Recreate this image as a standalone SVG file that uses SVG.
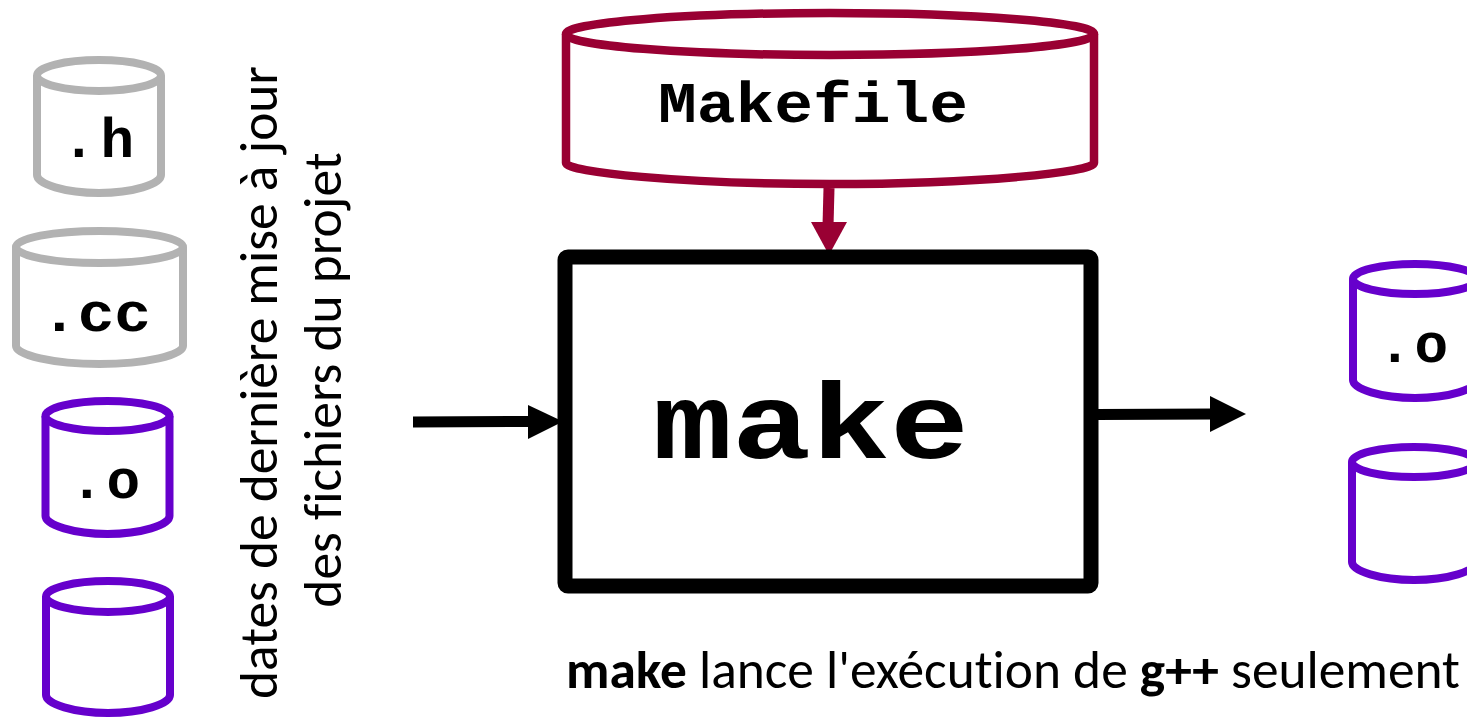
<svg xmlns="http://www.w3.org/2000/svg" width="1467" height="717" viewBox="0 0 1467 717">
<style>
.c{fill:#fff;stroke-width:8;stroke-linejoin:round}
.g{stroke:#b2b2b2}.p{stroke:#6600cc}.r{stroke:#990033;stroke-width:8.500}
.m{font-family:"Liberation Mono",monospace;font-weight:bold;fill:#000;text-anchor:middle}
.s{font-size:56px}
.t{font-family:Carlito,"Open Sans","Liberation Sans",sans-serif;fill:#000;font-variant-ligatures:none}
</style>
<rect width="1467" height="717" fill="#fff"/>
<g id="connectors">
<path d="M829 188L828 226" stroke="#990033" stroke-width="11" fill="none"/>
<path d="M811 222L847 222L829 255Z" fill="#990033"/>
<path d="M413 422L532 421.500" stroke="#000" stroke-width="11" fill="none"/>
<path d="M528 405L563 421.500L528 439Z" fill="#000"/>
<path d="M1097 414.500L1214 414" stroke="#000" stroke-width="11" fill="none"/>
<path d="M1210 396L1246 414L1210 432Z" fill="#000"/>
</g>
<g id="h"><path class="c g" d="M37 75.500V175C37 184 65 193 99 193S161 184 161 175V75.500"/><ellipse class="c g" cx="99" cy="75.500" rx="62" ry="15.500"/><text class="m s" x="98" y="157" textLength="72" lengthAdjust="spacing">.h</text></g>
<g id="cc"><path class="c g" d="M16 247V346C16 355 53 364 99.500 364S183 355 183 346V247"/><ellipse class="c g" cx="99.500" cy="247" rx="83.500" ry="16"/><text class="m s" x="96" y="331" textLength="110" lengthAdjust="spacingAndGlyphs">.cc</text></g>
<g id="o1"><path class="c p" d="M45.500 416V516C45.500 525 74 534 107.500 534S169.500 525 169.500 516V416"/><ellipse class="c p" cx="107.500" cy="416" rx="62" ry="15"/><text class="m s" x="105" y="498" textLength="70" lengthAdjust="spacing">.o</text></g>
<g id="exe1"><path class="c p" d="M46 596.500V695C46 704 74 713 108 713S170 704 170 695V596.500"/><ellipse class="c p" cx="108" cy="596.500" rx="62" ry="15.500"/></g>
<g id="dates"><text class="t" font-size="53.400" text-anchor="middle" transform="translate(277,382.500) rotate(-90)">dates de dernière mise à jour</text><text class="t" font-size="53.400" text-anchor="middle" transform="translate(341,380) rotate(-90)">des fichiers du projet</text></g>
<g id="makefile"><path class="c r" d="M566 34V163C566 172 680 184 830 184S1094 172 1094 163V34"/><ellipse class="c r" cx="830" cy="34" rx="264" ry="21"/><text class="m" x="813" y="122" font-size="58" textLength="310" lengthAdjust="spacingAndGlyphs">Makefile</text></g>
<g id="make"><rect x="565" y="257" width="526" height="329" rx="3" fill="#fff" stroke="#000" stroke-width="15" stroke-linejoin="round"/><text class="m" x="811" y="458" font-size="108" textLength="316" lengthAdjust="spacingAndGlyphs">make</text></g>
<g id="o2"><path class="c p" d="M1353 279V380C1353 389 1381 398 1415 398S1477 389 1477 380V279"/><ellipse class="c p" cx="1415" cy="279" rx="62" ry="15"/><text class="m s" x="1413" y="362" textLength="70" lengthAdjust="spacing">.o</text></g>
<g id="exe2"><path class="c p" d="M1352 462V562C1352 571 1380 580 1414 580S1476 571 1476 562V462"/><ellipse class="c p" cx="1414" cy="462" rx="62" ry="15"/></g>
<g id="caption"><text class="t" x="566" y="688" font-size="53.400"><tspan font-weight="bold">make</tspan> lance l'exécution de <tspan font-weight="bold">g++</tspan> seulement</text></g>
</svg>
